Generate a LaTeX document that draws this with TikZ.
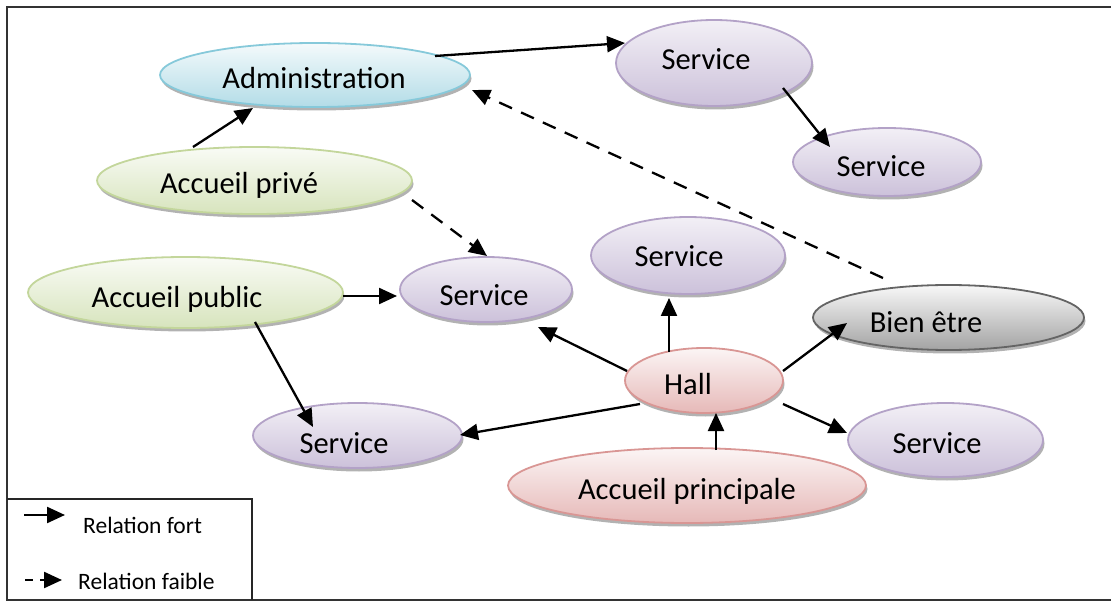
\documentclass[tikz,border=0pt]{standalone}
\usepackage{fontspec}
\setmainfont{Carlito}
\usetikzlibrary{shapes.geometric, shadows, arrows.meta}
\definecolor{blueLine}{HTML}{86C9DA}
\definecolor{blueFill}{HTML}{B3DCE7}
\definecolor{greenLine}{HTML}{C3D69B}
\definecolor{greenFill}{HTML}{D7E4BD}
\definecolor{lilacLine}{HTML}{B3A2C7}
\definecolor{lilacFill}{HTML}{CCC1DA}
\definecolor{roseLine}{HTML}{D99694}
\definecolor{roseFill}{HTML}{E6B9B8}
\definecolor{greyLine}{HTML}{646464}
\definecolor{greyFill}{HTML}{A3A3A3}

\tikzset{
    bubble/.style={ellipse, inner sep=0pt, line width=1.8pt,
        drop shadow={shadow xshift=1.5pt, shadow yshift=-3.5pt,
            fill=black, opacity=0.3}},
    % box centred on the baseline, so the shift below gives the baseline
    every label/.style={font=\fontsize{30.5}{36}\selectfont, inner sep=0pt,
        text height=10pt, text depth=10pt},
    adminbubble/.style={bubble, draw=blueLine, top color=white!85!blueFill, bottom color=blueFill},
    accbubble/.style={bubble, draw=greenLine, top color=white!85!greenFill, bottom color=greenFill},
    svcbubble/.style={bubble, draw=lilacLine, top color=white!75!lilacFill, bottom color=lilacFill},
    hallbubble/.style={bubble, draw=roseLine, top color=white!85!roseFill, bottom color=roseFill},
    greybubble/.style={bubble, draw=greyLine, top color=white!92!greyFill, bottom color=greyFill},
    strong/.style={line width=2.3pt, -{Triangle[length=18pt, width=16pt]}},
    weak/.style={strong, dash pattern=on 14pt off 10pt},
    legendtext/.style={font=\fontsize{23.5}{28}\selectfont, inner sep=0pt, anchor=base west},
}

\begin{document}
\begin{tikzpicture}[x=1pt, y=-1pt]
\useasboundingbox (0,0) rectangle (1111,601);

% --- FRAME AND LEGEND BOX ---
\draw[line width=1.8pt, black!80] (1111,7) -- (7,7) -- (7,600) -- (1111,600);
\draw[line width=1.8pt, black!85] (7,499) -- (252,499) -- (252,600);

% --- NODES (label shift = text baseline from centre, in px) ---
\node[adminbubble, minimum width=310, minimum height=64,
    label={[shift={(-1,14)}]center:Administration}] (admin) at (315,75) {};
\node[svcbubble, minimum width=196, minimum height=86,
    label={[shift={(-8,7)}]center:Service}] (svcA) at (714,63) {};
\node[svcbubble, minimum width=188, minimum height=68,
    label={[shift={(-6,15)}]center:Service}] (svcB) at (887,162) {};
\node[accbubble, minimum width=315, minimum height=67,
    label={[shift={(-15.5,13.5)}]center:Accueil privé}] (prive) at (254.5,180.5) {};
\node[accbubble, minimum width=315, minimum height=71,
    label={[shift={(-8.5,15.5)}]center:Accueil public}] (public) at (185.5,292.5) {};
\node[svcbubble, minimum width=172, minimum height=65,
    label={[shift={(-2,16.5)}]center:Service}] (svcMid) at (486,289.5) {};
\node[svcbubble, minimum width=194, minimum height=77,
    label={[shift={(-9,11.5)}]center:Service}] (svcUp) at (688,255.5) {};
\node[greybubble, minimum width=271, minimum height=65,
    label={[shift={(-22.5,15.5)}]center:Bien être}] (bien) at (948.5,317.5) {};
\node[hallbubble, minimum width=158, minimum height=65,
    label={[shift={(-16,14.5)}]center:Hall}] (hall) at (704,380.5) {};
\node[svcbubble, minimum width=209, minimum height=65,
    label={[shift={(-13.5,17.5)}]center:Service}] (svcLL) at (357.5,435.5) {};
\node[svcbubble, minimum width=195, minimum height=74,
    label={[shift={(-8.5,13)}]center:Service}] (svcLR) at (945.5,440) {};
\node[hallbubble, minimum width=358, minimum height=75,
    label={[shift={(0,13.5)}]center:Accueil principale}] (principale) at (687,485.5) {};

% --- RELATIONS ---
\draw[strong] ([shift={(120,-19)}]admin.center) -- ([shift={(-89,-20)}]svcA.center);
\draw[strong] ([shift={(-61.5,-33.5)}]prive.center) -- ([shift={(-62,33)}]admin.center);
\draw[weak] ([shift={(-65.5,-39.5)}]bien.center) -- ([shift={(157,15)}]admin.center);
\draw[strong] ([shift={(69,25)}]svcA.center) -- ([shift={(-57,-15)}]svcB.center);
\draw[weak] ([shift={(157.5,19.5)}]prive.center) -- ([shift={(1,-33.5)}]svcMid.center);
\draw[strong] ([shift={(157.5,3.5)}]public.center) -- ([shift={(-89,6.5)}]svcMid.center);
\draw[strong] ([shift={(69.5,29.5)}]public.center) -- ([shift={(-44.5,-8.5)}]svcLL.center);
\draw[strong] ([shift={(-77,-9.5)}]hall.center) -- ([shift={(52,37.5)}]svcMid.center);
\draw[strong] ([shift={(-35,-28.5)}]hall.center) -- ([shift={(-19,42.5)}]svcUp.center);
\draw[strong] ([shift={(79,-9.5)}]hall.center) -- ([shift={(-101.5,5.5)}]bien.center);
\draw[strong] ([shift={(79,23.5)}]hall.center) -- ([shift={(-98.5,-7)}]svcLR.center);
\draw[strong] ([shift={(-64,23.5)}]hall.center) -- ([shift={(102.5,-0.5)}]svcLL.center);
\draw[strong] ([shift={(29,-35.5)}]principale.center) -- ([shift={(12,32.5)}]hall.center);

% --- LEGEND ---
\coordinate (fortA) at (24,515);
\coordinate (fortB) at (65,515);
\coordinate (faibleA) at (25,580);
\coordinate (faibleB) at (62,580);
\draw[strong] (fortA) -- (fortB);
\draw[weak, dash pattern=on 8pt off 7pt] (faibleA) -- (faibleB);
\node[legendtext] (fortTxt) at (83,533) {Relation fort};
\node[legendtext] (faibleTxt) at (78,589) {Relation faible};

\end{tikzpicture}
\end{document}
